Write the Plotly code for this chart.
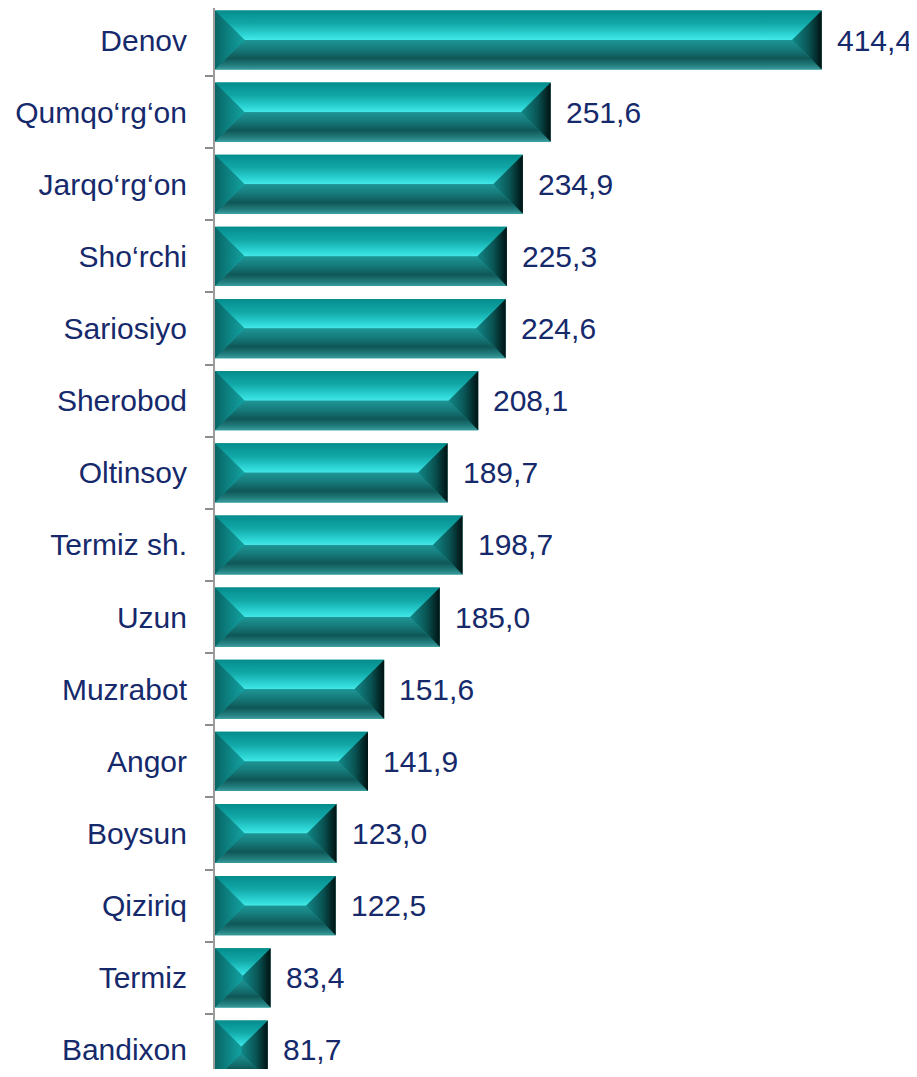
import plotly.graph_objects as go

# ---------------- data ----------------
categories = ["Denov", "Qumqo‘rg‘on", "Jarqo‘rg‘on", "Sho‘rchi", "Sariosiyo",
              "Sherobod", "Oltinsoy", "Termiz sh.", "Uzun", "Muzrabot",
              "Angor", "Boysun", "Qiziriq", "Termiz", "Bandixon"]
values = [414.4, 251.6, 234.9, 225.3, 224.6, 208.1, 189.7, 198.7, 185.0,
          151.6, 141.9, 123.0, 122.5, 83.4, 81.7]

# ---------------- layout constants ----------------
W, H = 909, 1061
ML, MR, MT, MB = 207, 36, 0, 0
XMIN, XMAX = 50, 450
PX_PER_CAT = 72.14
Y_TOP = -0.4436
Y_BOT = Y_TOP + (H - MT - MB) / PX_PER_CAT
BAR_W = 0.82
NAVY = "#15296b"
FONT = "Liberation Sans, Arial, sans-serif"
FS = 30

plot_w = W - ML - MR
plot_h = H - MT - MB
px_x = plot_w / (XMAX - XMIN)
px_y = plot_h / (Y_BOT - Y_TOP)

TOP_CS = [[0, "#058c8c"], [0.45, "#12a8a8"], [0.85, "#30d8d8"], [1, "#45e8e8"]]
BOT_CS = [[0, "#1e9595"], [0.3, "#167b7b"], [0.62, "#0f5757"], [0.85, "#227c7c"], [1, "#3a9c9c"]]
LEFT_CS = [[0, "#096565"], [1, "#12a2a2"]]
RIGHT_CS = [[0, "#128888"], [0.55, "#0a5454"], [1, "#001212"]]

ypos = list(range(len(categories)))

fig = go.Figure()

# base bars
fig.add_trace(go.Bar(
    x=values, y=ypos, orientation="h", width=BAR_W,
    marker=dict(color="#139494", line=dict(width=0)),
    hoverinfo="skip", showlegend=False,
))

# bevel facets computed from the data values
for i, v in enumerate(values):
    x0 = max(0, XMIN)
    x1 = v
    y0 = i - BAR_W / 2
    y1 = i + BAR_W / 2
    w_px = (x1 - x0) * px_x
    h_px = BAR_W * px_y
    d_px = min(w_px, h_px) / 2
    dx = d_px / px_x
    dy = d_px / px_y
    facets = [
        ([x0, x1, x1 - dx, x0 + dx, x0], [y0, y0, y0 + dy, y0 + dy, y0], "vertical", TOP_CS, y0, y0 + dy),
        ([x0, x1, x1 - dx, x0 + dx, x0], [y1, y1, y1 - dy, y1 - dy, y1], "vertical", BOT_CS, y1 - dy, y1),
        ([x0, x0 + dx, x0 + dx, x0, x0], [y0, y0 + dy, y1 - dy, y1, y0], "horizontal", LEFT_CS, x0, x0 + dx),
        ([x1, x1 - dx, x1 - dx, x1, x1], [y0, y0 + dy, y1 - dy, y1, y0], "horizontal", RIGHT_CS, x1 - dx, x1),
    ]
    for fx, fy, orient, cs, s, e in facets:
        fig.add_trace(go.Scatter(
            x=fx, y=fy, mode="lines", fill="toself",
            line=dict(width=0, color="rgba(0,0,0,0)"),
            fillgradient=dict(type=orient, colorscale=cs, start=s, stop=e),
            hoverinfo="skip", showlegend=False,
        ))

# value labels
for i, v in enumerate(values):
    fig.add_annotation(
        x=v, y=i, text=f"{v:.1f}".replace(".", ","), showarrow=False,
        xanchor="left", yanchor="middle", xshift=13,
        font=dict(size=FS, color=NAVY, family=FONT),
    )

fig.update_layout(
    width=W, height=H,
    margin=dict(l=ML, r=MR, t=MT, b=MB, autoexpand=False),
    paper_bgcolor="white", plot_bgcolor="white",
    font=dict(family=FONT, size=FS, color=NAVY),
    barmode="overlay",
    xaxis=dict(range=[XMIN, XMAX], visible=False, showgrid=False,
               zeroline=False, automargin=False),
    yaxis=dict(
        range=[Y_BOT, Y_TOP], tickmode="array", tickvals=ypos, ticktext=categories,
        ticks="", showgrid=False, zeroline=False, automargin=False,
        showline=True, linecolor="#9c9c9c", linewidth=2,
        ticklabelstandoff=20,
        tickfont=dict(size=FS, color=NAVY, family=FONT),
        minor=dict(tickmode="array", tickvals=[p + 0.5 for p in ypos],
                   ticks="outside", ticklen=8, tickcolor="#8c8c8c", tickwidth=2,
                   showgrid=False),
    ),
)

fig.write_html("out.html")
